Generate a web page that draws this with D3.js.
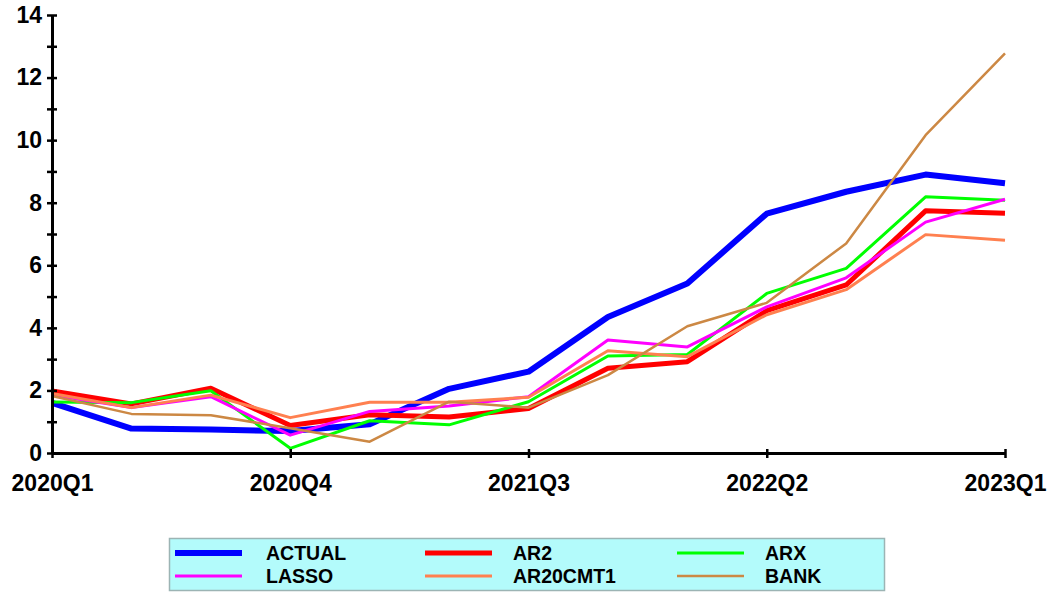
<!DOCTYPE html>
<html>
<head>
    <meta charset="utf-8">
    <title>Forecasts vs actual</title>
    <script src="https://d3js.org/d3.v7.min.js"></script>
    <style>
      body { margin: 0; background: #fff; }
      .axis text { font-family: "Liberation Sans", Arial, sans-serif; font-weight: bold; font-size: 23px; fill: #000; }
      .axis path, .axis line { stroke: #000; }
      .legend text { font-family: "Liberation Sans", Arial, sans-serif; font-weight: bold; font-size: 19.5px; fill: #000; }
    </style>
</head>
<body>
<div id="chart"></div>
<script type="text/javascript">
    // data
    let quarters = ["2020Q1","2020Q2","2020Q3","2020Q4","2021Q1","2021Q2","2021Q3",
                    "2021Q4","2022Q1","2022Q2","2022Q3","2022Q4","2023Q1"];
    let xLabels = ["2020Q1","2020Q4","2021Q3","2022Q2","2023Q1"];
    let yTicks = [0,1,2,3,4,5,6,7,8,9,10,11,12,13,14];

    let actual   = [1.60, 0.78, 0.75, 0.70, 0.92, 2.05, 2.60, 4.35, 5.42, 7.65, 8.35, 8.90, 8.62];
    let ar2      = [1.98, 1.57, 2.07, 0.88, 1.22, 1.15, 1.42, 2.71, 2.92, 4.55, 5.37, 7.74, 7.66];
    let arx      = [1.63, 1.61, 1.99, 0.15, 1.03, 0.90, 1.64, 3.10, 3.15, 5.10, 5.90, 8.19, 8.08];
    let lasso    = [1.85, 1.45, 1.80, 0.57, 1.33, 1.50, 1.80, 3.61, 3.39, 4.67, 5.60, 7.38, 8.11];
    let ar20cmt1 = [1.90, 1.45, 1.85, 1.13, 1.62, 1.62, 1.78, 3.27, 3.08, 4.42, 5.22, 6.98, 6.80];
    let bank     = [1.82, 1.25, 1.21, 0.79, 0.36, 1.64, 1.45, 2.49, 4.05, 4.80, 6.70, 10.16, 12.77];

    let seriesNames = ["ACTUAL", "AR2", "ARX", "LASSO", "AR20CMT1", "BANK"];
    let seriesValues = [actual, ar2, arx, lasso, ar20cmt1, bank];

    // looks
    let colors = {ACTUAL: "#0000ff", AR2: "#ff0000", ARX: "#00ff00",
                  LASSO: "#ff00ff", AR20CMT1: "#ff8050", BANK: "#cc8844"};
    let widths = {ACTUAL: 6, AR2: 5, ARX: 3, LASSO: 3, AR20CMT1: 3, BANK: 2.5};

    let W = 1050, H = 592;
    let plotLeft = 52, plotRight = 1005, plotTop = 15, plotBottom = 453;

    let svg = d3.select("#chart")
            .append("svg")
                .attr("width", W)
                .attr("height", H);

    let xScale = d3.scalePoint()
                  .domain(quarters)
                  .range([plotLeft, plotRight]);
    let yScale = d3.scaleLinear()
                  .domain([0, 14])
                  .range([plotBottom, plotTop]);

    // lines
    let line = d3.line()
                 .x((d, i) => xScale(quarters[i]))
                 .y(d => yScale(d));

    seriesNames.forEach((name, k) => {
      svg.append("path")
          .datum(seriesValues[k])
          .attr("fill", "none")
          .attr("stroke", colors[name])
          .attr("stroke-width", widths[name])
          .attr("stroke-linejoin", "round")
          .attr("d", line);
    });

    // y axis, ticks crossing the line
    svg.append("g")
        .attr("class", "axis")
        .attr("transform", "translate(" + plotLeft + ",0)")
        .call(d3.axisLeft(yScale)
                .tickValues(yTicks)
                .tickSize(5)
                .tickSizeOuter(0)
                .tickPadding(5)
                .tickFormat(d => d % 2 === 0 ? d : ""));
    svg.append("g")
        .attr("class", "axis")
        .attr("transform", "translate(" + plotLeft + ",0)")
        .call(d3.axisRight(yScale).tickValues(yTicks).tickSize(5).tickFormat(""))
        .select(".domain").remove();

    // x axis
    svg.append("g")
        .attr("class", "axis")
        .attr("transform", "translate(0," + plotBottom + ")")
        .call(d3.axisBottom(xScale)
                .tickValues(xLabels)
                .tickSize(5)
                .tickSizeOuter(0)
                .tickPadding(17));
    svg.append("g")
        .attr("class", "axis")
        .attr("transform", "translate(0," + plotBottom + ")")
        .call(d3.axisTop(xScale).tickValues(xLabels).tickSize(4).tickFormat(""))
        .select(".domain").remove();

    svg.selectAll(".axis .domain").attr("stroke-width", 3);
    svg.selectAll(".axis .tick line").attr("stroke-width", 2.5);

    // legend
    let legend = svg.append("g").attr("class", "legend");
    legend.append("rect")
        .attr("x", 169.5).attr("y", 538.5)
        .attr("width", 715).attr("height", 52)
        .attr("fill", "#b3fbfb")
        .attr("stroke", "#9cb4b4")
        .attr("stroke-width", 1.5);

    let colX = [175, 425, 677];
    let colText = [266, 513, 765];
    let rowY = [553, 576];
    let legendOrder = ["ACTUAL", "AR2", "ARX", "LASSO", "AR20CMT1", "BANK"];

    legendOrder.forEach((name, i) => {
      let c = i % 3, r = Math.floor(i / 3);
      legend.append("line")
          .attr("x1", colX[c]).attr("x2", colX[c] + 67)
          .attr("y1", rowY[r]).attr("y2", rowY[r])
          .attr("stroke", colors[name])
          .attr("stroke-width", widths[name]);
      legend.append("text")
          .attr("x", colText[c])
          .attr("y", rowY[r])
          .attr("dy", "0.36em")
          .text(name);
    });
</script>
</body>
</html>
